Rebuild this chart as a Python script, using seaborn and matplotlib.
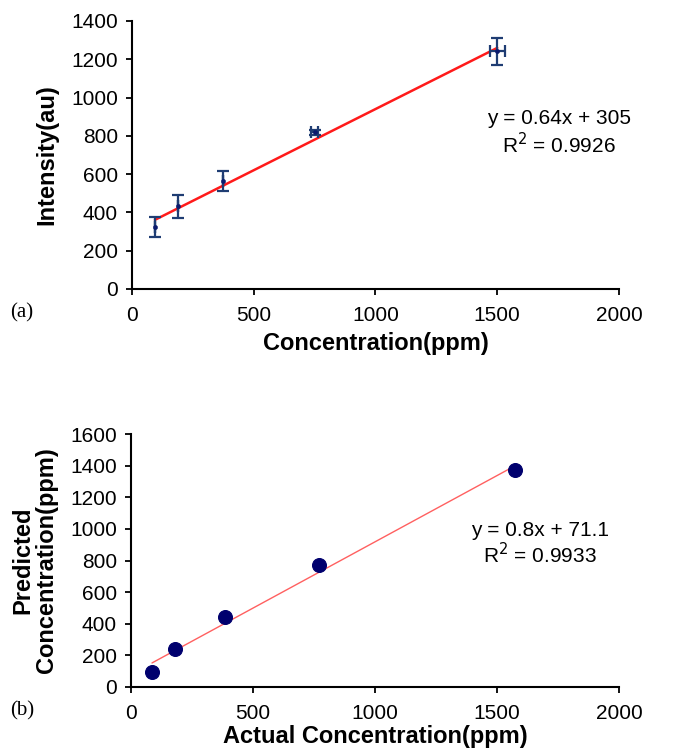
import numpy as np
import pandas as pd
import matplotlib
matplotlib.use("Agg")
import matplotlib.pyplot as plt
import seaborn as sns

# (a) calibration data
conc_a = [94, 188, 375, 750, 1500]
intensity_a = [326, 431, 566, 818, 1242]
yerr_a = [52, 62, 53, 15, 70]
xerr_a = [0, 0, 0, 15, 30]
eq_a = "y = 0.64x + 305"
r2_a = "R$^2$ = 0.9926"
fit_a = (0.639, 301)  # trend line as drawn

# (b) predicted vs actual
actual_b = [86, 179, 386, 771, 1573]
predicted_b = [93, 242, 440, 771, 1373]
eq_b = "y = 0.8x + 71.1"
r2_b = "R$^2$ = 0.9933"
fit_b = (0.838, 80)  # trend line as drawn

sns.set_style("ticks")
plt.rcParams['font.family'] = ['Liberation Sans', 'DejaVu Sans']
plt.rcParams['text.color'] = 'black'
plt.rcParams['axes.labelcolor'] = 'black'

fig = plt.figure(figsize=(6.91, 7.48), dpi=100)
ax1 = fig.add_axes([132 / 691, 1 - 289 / 748, 487 / 691, 268 / 748])
ax2 = fig.add_axes([131 / 691, 1 - 687 / 748, 488 / 691, 253 / 748])


def style(ax, ymax, ystep):
    ax.set_xlim(0, 2000)
    ax.set_ylim(0, ymax)
    ax.set_xticks(range(0, 2001, 500))
    ax.set_yticks(range(0, ymax + 1, ystep))
    sns.despine(ax=ax)
    for s in ["left", "bottom"]:
        ax.spines[s].set_linewidth(1.5)
        ax.spines[s].set_color("black")
    ax.tick_params(direction="out", length=4.5, width=1.3, labelsize=15, colors="black")
    ax.tick_params(axis="x", pad=7.5)
    ax.tick_params(axis="y", pad=5.5)


# panel a
df_a = pd.DataFrame({"x": conc_a, "y": intensity_a})
fx = np.array([min(conc_a), max(conc_a)])
sns.lineplot(x=fx, y=fit_a[0] * fx + fit_a[1], ax=ax1, color="#ff1a1a", lw=1.8)
ax1.errorbar(conc_a, intensity_a, yerr=yerr_a, xerr=xerr_a, fmt="none",
             ecolor="#1f3d73", elinewidth=1.6, capsize=4, capthick=1.6, zorder=3)
sns.scatterplot(data=df_a, x="x", y="y", ax=ax1, color="#0b1a6e", s=10,
                edgecolor="#0b1a6e", zorder=4)
style(ax1, 1400, 200)
ax1.set_xlabel("Concentration(ppm)", fontsize=17, fontweight="bold", labelpad=5.5)
ax1.set_ylabel("Intensity(au)", fontsize=17, fontweight="bold", labelpad=9.5)
ax1.text(1755, 893, eq_a, fontsize=15, ha="center", va="center")
ax1.text(1755, 752, r2_a, fontsize=15, ha="center", va="center")

# panel b
df_b = pd.DataFrame({"x": actual_b, "y": predicted_b})
fx = np.array([min(actual_b), max(actual_b)])
sns.lineplot(x=fx, y=fit_b[0] * fx + fit_b[1], ax=ax2, color="#ff6060", lw=1.0)
sns.scatterplot(data=df_b, x="x", y="y", ax=ax2, color="#00006e", s=100,
                edgecolor="#00006e", zorder=4)
style(ax2, 1600, 200)
ax2.set_xlabel("Actual Concentration(ppm)", fontsize=17, fontweight="bold", labelpad=1.5)
ax2.set_ylabel("Predicted\nConcentration(ppm)", fontsize=17, fontweight="bold", labelpad=9,
               linespacing=1.03)
ax2.text(1676, 987, eq_b, fontsize=15, ha="center", va="center")
ax2.text(1676, 835, r2_b, fontsize=15, ha="center", va="center")

fig.text(10 / 691, 1 - 313 / 748, "(a)", fontsize=15, family="Liberation Serif", va="center")
fig.text(10 / 691, 1 - 711 / 748, "(b)", fontsize=15, family="Liberation Serif", va="center")

fig.savefig("out.png", dpi=100)
